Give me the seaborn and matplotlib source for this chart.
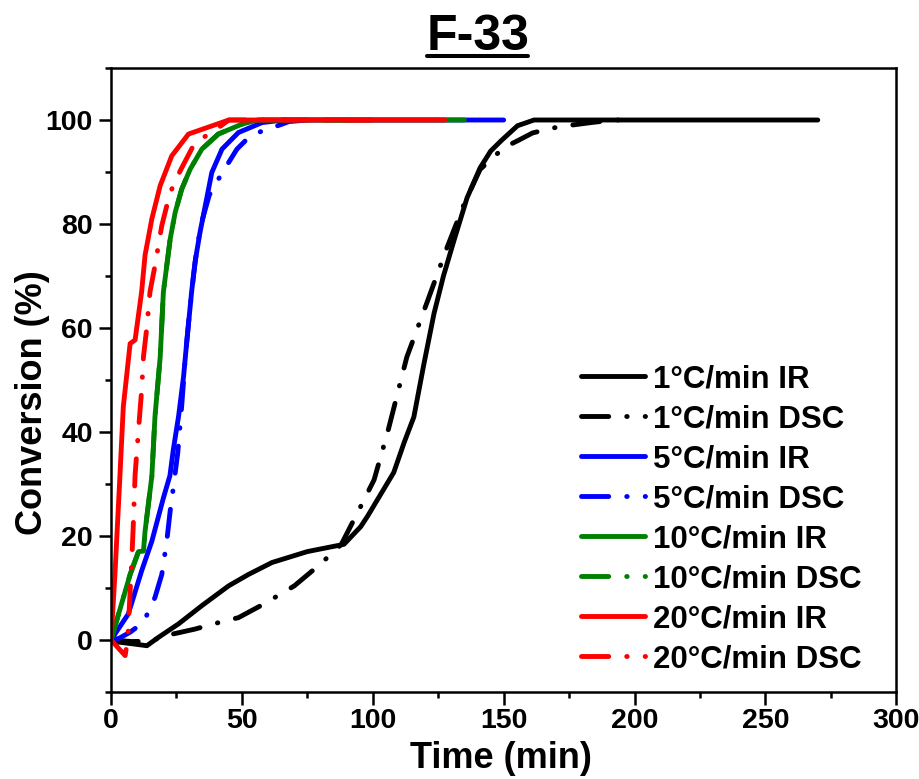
import matplotlib
matplotlib.use("Agg")
import matplotlib.pyplot as plt
import seaborn as sns
import pandas as pd
from matplotlib.lines import Line2D
from matplotlib.ticker import MultipleLocator

sns.set_theme(style="white")
plt.rcParams['font.family'] = ['Liberation Sans', 'DejaVu Sans']
plt.rcParams['font.weight'] = 'bold'
plt.rcParams['text.color'] = 'black'
plt.rcParams['axes.labelcolor'] = 'black'
plt.rcParams['xtick.color'] = 'black'
plt.rcParams['ytick.color'] = 'black'

# ---- data ----
t_1_ir = [0, 2.8, 9.2, 13.7, 18.1, 25.8, 34.7, 44.9, 52.5, 61.5, 75, 89, 95.4, 98, 103, 108, 112,
          115.7, 119.5, 123.4, 127, 131, 136, 141, 145, 149, 155.3, 161.6, 200, 270]
c_1_ir = [0, -0.4, -0.8, -1.1, 0.5, 3.1, 6.6, 10.4, 12.6, 14.9, 17, 18.4, 21.8, 23.8, 28, 32.2, 38,
          42.9, 53, 62.8, 70, 76.8, 85, 90.8, 94, 96, 98.9, 100, 100, 100]
t_1_dsc = [0, 8, 15, 23.2, 32.1, 39.2, 48.7, 58.3, 70, 80, 88, 95.4, 100.5, 105.6, 113, 121, 128,
           135, 141, 150.1, 155.3, 161, 168, 175.7, 183.3, 192, 200]
c_1_dsc = [0, -0.3, -0.2, 1.1, 2.1, 3.1, 4.3, 6.9, 10.4, 14.6, 18.4, 25.7, 30.8, 39.8, 54.4, 65.3, 75,
           84, 90.5, 94.7, 96, 97.5, 98.4, 99, 99.5, 100, 100]
t_5_ir = [0, 6.6, 11.7, 15.6, 20, 22.5, 23.8, 25.8, 27.7, 29, 30.8, 32.1, 34, 36, 38.5, 42.4, 48.7,
          57.7, 66, 150]
c_5_ir = [0, 5, 13.3, 19, 27.3, 31.6, 36.6, 43, 50.6, 57.7, 67, 72.7, 78.4, 83.5, 89.9, 94.4, 97.6,
          99.5, 100, 100]
t_5_dsc = [0, 3, 7.3, 12.4, 16.8, 19.4, 21.3, 22.6, 23.8, 25.5, 27, 28.5, 30, 31.5, 33, 35, 37.5,
           41, 44.9, 48.1, 52.5, 57.7, 61.5, 68, 75]
c_5_dsc = [0, 0.3, 1.5, 3.4, 8.2, 12.6, 19, 24.8, 29.3, 36, 45, 55, 63, 70, 76, 81, 85.5,
           88.6, 91.8, 94.4, 96.6, 97.9, 98.5, 99.7, 100]
t_10_ir = [0, 7.3, 10.5, 12.4, 13, 15.6, 16.8, 18.8, 20, 21.3, 22.6, 24.5, 27, 30.2, 34.7, 41, 50,
           56, 135]
c_10_ir = [0, 12.6, 17, 17.1, 20.9, 31.5, 43, 54.5, 66.9, 72, 77.1, 82.2, 86.7, 90.5, 94.4, 97.3, 99.2,
           100, 100]
t_10_dsc = [0, 7.3, 10.5, 12.4, 13, 15.6, 16.8, 18.8, 20, 21.3, 22.6, 24.5, 27, 30.2, 34.7, 41, 50,
            56, 100]
c_10_dsc = [0, 12.6, 17, 17.1, 20.9, 31.5, 43, 54.5, 66.9, 72, 77.1, 82.2, 86.7, 90.5, 94.4, 97.3, 99.2,
            100, 100]
t_20_ir = [0, 1.5, 3.4, 4.7, 7.3, 9.2, 11.7, 13, 15.6, 18.8, 23.2, 29.6, 45, 127.5]
c_20_ir = [0, 12.6, 31.5, 44.9, 57, 57.7, 67, 74, 81, 87.4, 93.1, 97.3, 100, 100]
t_20_dsc = [0, 5.4, 6.4, 7.3, 7.9, 8.5, 9.2, 10.5, 11.7, 12.4, 13.7, 14.9, 16.8, 19.4, 21.3, 23.2,
            26.4, 32.1, 38.5, 45, 100]
c_20_dsc = [0, -3, 0.2, 9.4, 15, 22, 31.8, 40.4, 48, 54.5, 60.2, 67, 72, 79.7, 83.5, 86.7,
            90.2, 95.7, 97.6, 100, 100]

labels = ["1°C/min IR", "1°C/min DSC", "5°C/min IR", "5°C/min DSC",
          "10°C/min IR", "10°C/min DSC", "20°C/min IR", "20°C/min DSC"]
series = [(t_1_ir, c_1_ir), (t_1_dsc, c_1_dsc), (t_5_ir, c_5_ir), (t_5_dsc, c_5_dsc),
          (t_10_ir, c_10_ir), (t_10_dsc, c_10_dsc), (t_20_ir, c_20_ir), (t_20_dsc, c_20_dsc)]
colors = ["black", "black", "#0000ff", "#0000ff", "#008000", "#008000", "#ff0000", "#ff0000"]

fig = plt.figure(figsize=(9.19, 7.79), dpi=100)
ax = fig.add_axes([0.1208, 0.1117, 0.8545, 0.801])

dashdot = (0, (5.6, 3.7, 0.1, 3.7))
for i, ((t, c), lab, col) in enumerate(zip(series, labels, colors)):
    df = pd.DataFrame({"Time": t, "Conv": c})
    ls = '-' if i % 2 == 0 else dashdot
    sns.lineplot(data=df, x="Time", y="Conv", ax=ax, color=col, lw=3.5, label=lab,
                 sort=False, estimator=None, linestyle=ls,
                 dash_capstyle='round', solid_capstyle='round', solid_joinstyle='round')

ax.set_xlim(0, 300)
ax.set_ylim(-10, 110)
ax.xaxis.set_major_locator(MultipleLocator(50))
ax.xaxis.set_minor_locator(MultipleLocator(25))
ax.yaxis.set_major_locator(MultipleLocator(20))
ax.yaxis.set_minor_locator(MultipleLocator(10))
ax.tick_params(which='major', direction='out', length=9, width=1.8, bottom=True, left=True,
               top=False, right=False, labelsize=20.5, colors='black')
ax.tick_params(which='minor', direction='out', length=4, width=1.8, bottom=True, left=True,
               top=False, right=False, colors='black')
ax.tick_params(axis='y', which='major', pad=4)
ax.tick_params(axis='x', which='major', pad=2.5)
for lbl in ax.get_xticklabels() + ax.get_yticklabels():
    lbl.set_fontweight('bold')
for sp in ax.spines.values():
    sp.set_linewidth(1.8)
    sp.set_color('black')
ax.set_xlabel("Time (min)", fontsize=26, fontweight='bold', va='top')
ax.set_ylabel("Conversion (%)", fontsize=26, fontweight='bold')
ax.xaxis.set_label_coords(0.496, -0.078)
ax.yaxis.set_label_coords(-0.078, 0.463)

leg = ax.legend(loc='upper left', bbox_to_anchor=(0.598, 0.5256), frameon=False,
                handlelength=2.05, handletextpad=0.26, labelspacing=0.32, borderpad=0,
                borderaxespad=0, prop={'weight': 'bold', 'size': 22.5})

title = fig.text(0.52, 1 - 50 / 779, "F-33", fontsize=36, fontweight='bold', ha='center',
                 va='baseline')
fig.canvas.draw()
bb = title.get_window_extent()
W, H = fig.bbox.width, fig.bbox.height
fig.add_artist(Line2D([(bb.x0 + 1) / W, (bb.x1 - 1) / W], [1 - 55.5 / 779] * 2,
                      transform=fig.transFigure, color='black', lw=2.9))

fig.savefig("out.png", dpi=100)
